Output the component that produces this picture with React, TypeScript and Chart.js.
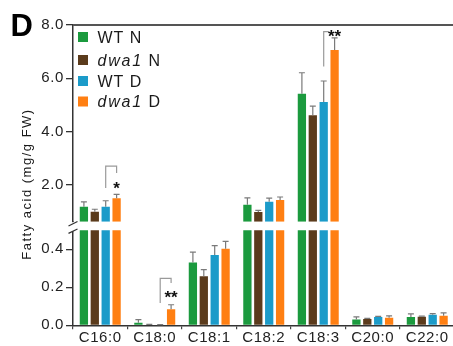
import React, { useEffect, useRef } from 'react';
import { Chart, registerables } from 'chart.js';

Chart.register(...registerables);

// ---- data ----
const categories = ['C16:0', 'C18:0', 'C18:1', 'C18:2', 'C18:3', 'C20:0', 'C22:0'];
const seriesNames = ['WT N', 'dwa1 N', 'WT D', 'dwa1 D'];
const wtN = [1.18, 0.014, 0.33, 1.26, 5.42, 0.03, 0.044];
const wtNErr = [0.19, 0.016, 0.055, 0.26, 0.79, 0.014, 0.016];
const dwaN = [1.0, 0.003, 0.258, 0.99, 4.62, 0.033, 0.045];
const dwaNErr = [0.09, 0.002, 0.035, 0.06, 0.34, 0.003, 0.003];
const wtD = [1.18, 0.003, 0.37, 1.37, 5.11, 0.044, 0.056];
const wtDErr = [0.23, 0.001, 0.049, 0.14, 0.79, 0.003, 0.005];
const dwaD = [1.5, 0.084, 0.403, 1.44, 7.06, 0.04, 0.05];
const dwaDErr = [0.15, 0.024, 0.039, 0.11, 0.46, 0.01, 0.015];

const lowTicks = [0, 0.2, 0.4];
const highTicks = [2, 4, 6, 8];
const lowBarMax = 0.5;
const lowScaleMax = 0.545;
const highMin = 0.624;
const highMax = 8.0;

// significance annotations (values in data units)
const sigCategory = [0, 1, 4];
const sigLabel = ['*', '**', '**'];
const sigTop = [2.71, 0.247, 7.75];
const sigLeftBottom = [1.89, 0.117, 6.44];
const sigRightBottom: (number | null)[] = [2.45, 0.223, null];
const sigStarY = [2.04, 0.17, 7.72];

const yTitle = 'Fatty acid (mg/g FW)';
const panelLabel = 'D';

const FONT = '"Liberation Sans", Arial, Helvetica, sans-serif';
const COLORS = ['#1b9a3e', '#5b3b1c', '#1b9bc9', '#ff7f12'];

export default function App() {
  const ref = useRef<HTMLCanvasElement>(null);

  useEffect(() => {
    const canvas = ref.current!;
    const values = [wtN, dwaN, wtD, dwaD];
    const errs = [wtNErr, dwaNErr, wtDErr, dwaDErr];

    const datasets: any[] = [];
    values.forEach((vals, i) => {
      datasets.push({
        label: seriesNames[i],
        data: vals.map((v) => (v > highMin ? [highMin, v] : null)),
        backgroundColor: COLORS[i],
        borderWidth: 0,
        yAxisID: 'yHigh',
        stack: 's' + i,
        categoryPercentage: 0.8,
        barPercentage: 0.76,
      });
    });
    values.forEach((vals, i) => {
      datasets.push({
        label: seriesNames[i] + ' (low)',
        data: vals.map((v) => [0, Math.min(v, lowBarMax)]),
        backgroundColor: COLORS[i],
        borderWidth: 0,
        yAxisID: 'yLow',
        stack: 's' + i,
        categoryPercentage: 0.8,
        barPercentage: 0.76,
      });
    });

    const pix = (chart: any, v: number) =>
      v > lowScaleMax ? chart.scales.yHigh.getPixelForValue(v) : chart.scales.yLow.getPixelForValue(v);

    const overlay = {
      id: 'overlay',
      beforeDraw(chart: any) {
        (chart.ctx as any).letterSpacing = '0.6px';
      },
      afterDatasetsDraw(chart: any) {
        const ctx = chart.ctx as CanvasRenderingContext2D;
        ctx.save();
        (ctx as any).letterSpacing = '0px';
        // error bars
        ctx.strokeStyle = '#7a7a7a';
        ctx.lineWidth = 1.2;
        values.forEach((vals, i) => {
          const meta = chart.getDatasetMeta(i + 4);
          vals.forEach((v, j) => {
            const el = meta.data[j];
            if (!el) return;
            const x = el.x;
            const y0 = pix(chart, v);
            const y1 = pix(chart, v + errs[i][j]);
            ctx.beginPath();
            ctx.moveTo(x, y0);
            ctx.lineTo(x, y1);
            ctx.moveTo(x - 3, y1);
            ctx.lineTo(x + 3, y1);
            ctx.stroke();
          });
        });
        // significance brackets
        ctx.strokeStyle = '#9a9a9a';
        ctx.lineWidth = 1.2;
        sigCategory.forEach((c, k) => {
          const xl = chart.getDatasetMeta(6).data[c].x;
          const xr = chart.getDatasetMeta(7).data[c].x;
          const yt = pix(chart, sigTop[k]);
          const yl = pix(chart, sigLeftBottom[k]);
          ctx.beginPath();
          ctx.moveTo(xl, yl);
          ctx.lineTo(xl, yt);
          const rb = sigRightBottom[k];
          if (rb !== null) {
            ctx.lineTo(xr, yt);
            ctx.lineTo(xr, pix(chart, rb));
          } else {
            ctx.lineTo(xr - 6, yt);
          }
          ctx.stroke();
          ctx.fillStyle = '#111';
          ctx.font = `bold 17px ${FONT}`;
          ctx.textAlign = 'center';
          ctx.textBaseline = 'alphabetic';
          ctx.fillText(sigLabel[k], xr, pix(chart, sigStarY[k]) + 9.7);
        });
        ctx.restore();
      },
      afterDraw(chart: any) {
        const ctx = chart.ctx as CanvasRenderingContext2D;
        const area = chart.chartArea;
        const L = area.left;
        ctx.save();
        (ctx as any).letterSpacing = '0px';
        // top frame line
        ctx.strokeStyle = '#555';
        ctx.lineWidth = 2;
        ctx.beginPath();
        ctx.moveTo(L, area.top);
        ctx.lineTo(chart.width, area.top);
        ctx.stroke();
        // axis break
        const b = chart.scales.yHigh.bottom;
        ctx.fillStyle = '#fff';
        ctx.fillRect(L - 3, b + 0.5, 6, 9);
        ctx.strokeStyle = '#333';
        ctx.lineWidth = 1.3;
        ctx.beginPath();
        ctx.moveTo(L - 4.5, b + 4.3);
        ctx.lineTo(L + 4.5, b - 0.2);
        ctx.moveTo(L - 4.5, b + 11.6);
        ctx.lineTo(L + 4.5, b + 7.3);
        ctx.stroke();
        // legend
        const legY = [37, 60, 81, 101.5];
        seriesNames.forEach((name, i) => {
          ctx.fillStyle = COLORS[i];
          ctx.fillRect(L + 5, legY[i] - 5, 10, 10);
          ctx.fillStyle = '#1a1a1a';
          ctx.textAlign = 'left';
          ctx.textBaseline = 'middle';
          let x = L + 24.5;
          const y = legY[i] + 1.5;
          if (name.startsWith('dwa1')) {
            ctx.font = `italic 16px ${FONT}`;
            (ctx as any).letterSpacing = '1.8px';
            ctx.fillText('dwa1', x, y);
            x += ctx.measureText('dwa1').width;
            ctx.font = `16px ${FONT}`;
            (ctx as any).letterSpacing = '1px';
            ctx.fillText(name.slice(4), x, y);
          } else {
            ctx.font = `16px ${FONT}`;
            (ctx as any).letterSpacing = '1px';
            ctx.fillText(name, x, y);
          }
        });
        // y-axis title
        ctx.save();
        ctx.translate(27.5, 184);
        ctx.rotate(-Math.PI / 2);
        ctx.font = `13px ${FONT}`;
        (ctx as any).letterSpacing = '1.5px';
        ctx.fillStyle = '#1a1a1a';
        ctx.textAlign = 'center';
        ctx.textBaseline = 'middle';
        ctx.fillText(yTitle, 0, 0);
        ctx.restore();
        // panel label
        (ctx as any).letterSpacing = '0px';
        ctx.font = `bold 31px ${FONT}`;
        ctx.fillStyle = '#000';
        ctx.textAlign = 'left';
        ctx.textBaseline = 'alphabetic';
        ctx.fillText(panelLabel, 10.5, 36);
        ctx.restore();
      },
    };

    const tickFont = { family: FONT, size: 15 };
    const yCommon = (min: number, max: number, ticks: number[], weight: number) => ({
      type: 'linear',
      position: 'left',
      stack: 'ystack',
      stackWeight: weight,
      stacked: false,
      min,
      max,
      afterBuildTicks: (s: any) => {
        s.ticks = ticks.map((v) => ({ value: v }));
      },
      afterFit: (s: any) => {
        s.width = 73;
      },
      ticks: {
        font: tickFont,
        color: '#222',
        padding: 2,
        callback: (v: any) => Number(v).toFixed(1),
      },
      grid: { display: true, drawOnChartArea: false, drawTicks: true, tickLength: 7, color: '#333', lineWidth: 1.3 },
      border: { display: true, color: '#333', width: 1.5 },
    });

    const chart = new Chart(canvas, {
      type: 'bar',
      data: { labels: categories, datasets },
      plugins: [overlay],
      options: {
        responsive: false,
        animation: false,
        devicePixelRatio: 1,
        layout: { padding: { left: 0, right: 3.5, top: 25, bottom: 0 } },
        plugins: { legend: { display: false }, tooltip: { enabled: false }, title: { display: false } },
        scales: {
          x: {
            type: 'category',
            offset: true,
            grid: { display: true, offset: true, drawOnChartArea: false, drawTicks: true, tickLength: 4, color: '#444', lineWidth: 1.2 },
            border: { display: true, color: '#333', width: 1.5 },
            ticks: { font: tickFont, color: '#222', padding: 0, maxRotation: 0, autoSkip: false },
            afterFit: (s: any) => {
              s.height = 20.7;
            },
          },
          yLow: yCommon(0, lowScaleMax, lowTicks, 103.6),
          yHigh: yCommon(highMin, highMax, highTicks, 196.7),
        } as any,
      },
    } as any);

    return () => chart.destroy();
  }, []);

  return (
    <div style={{ position: 'absolute', left: 0, top: 0, width: 453, height: 346, overflow: 'hidden', background: '#fff' }}>
      <canvas ref={ref} width={458} height={346} style={{ display: 'block', width: 458, height: 346 }} />
    </div>
  );
}
